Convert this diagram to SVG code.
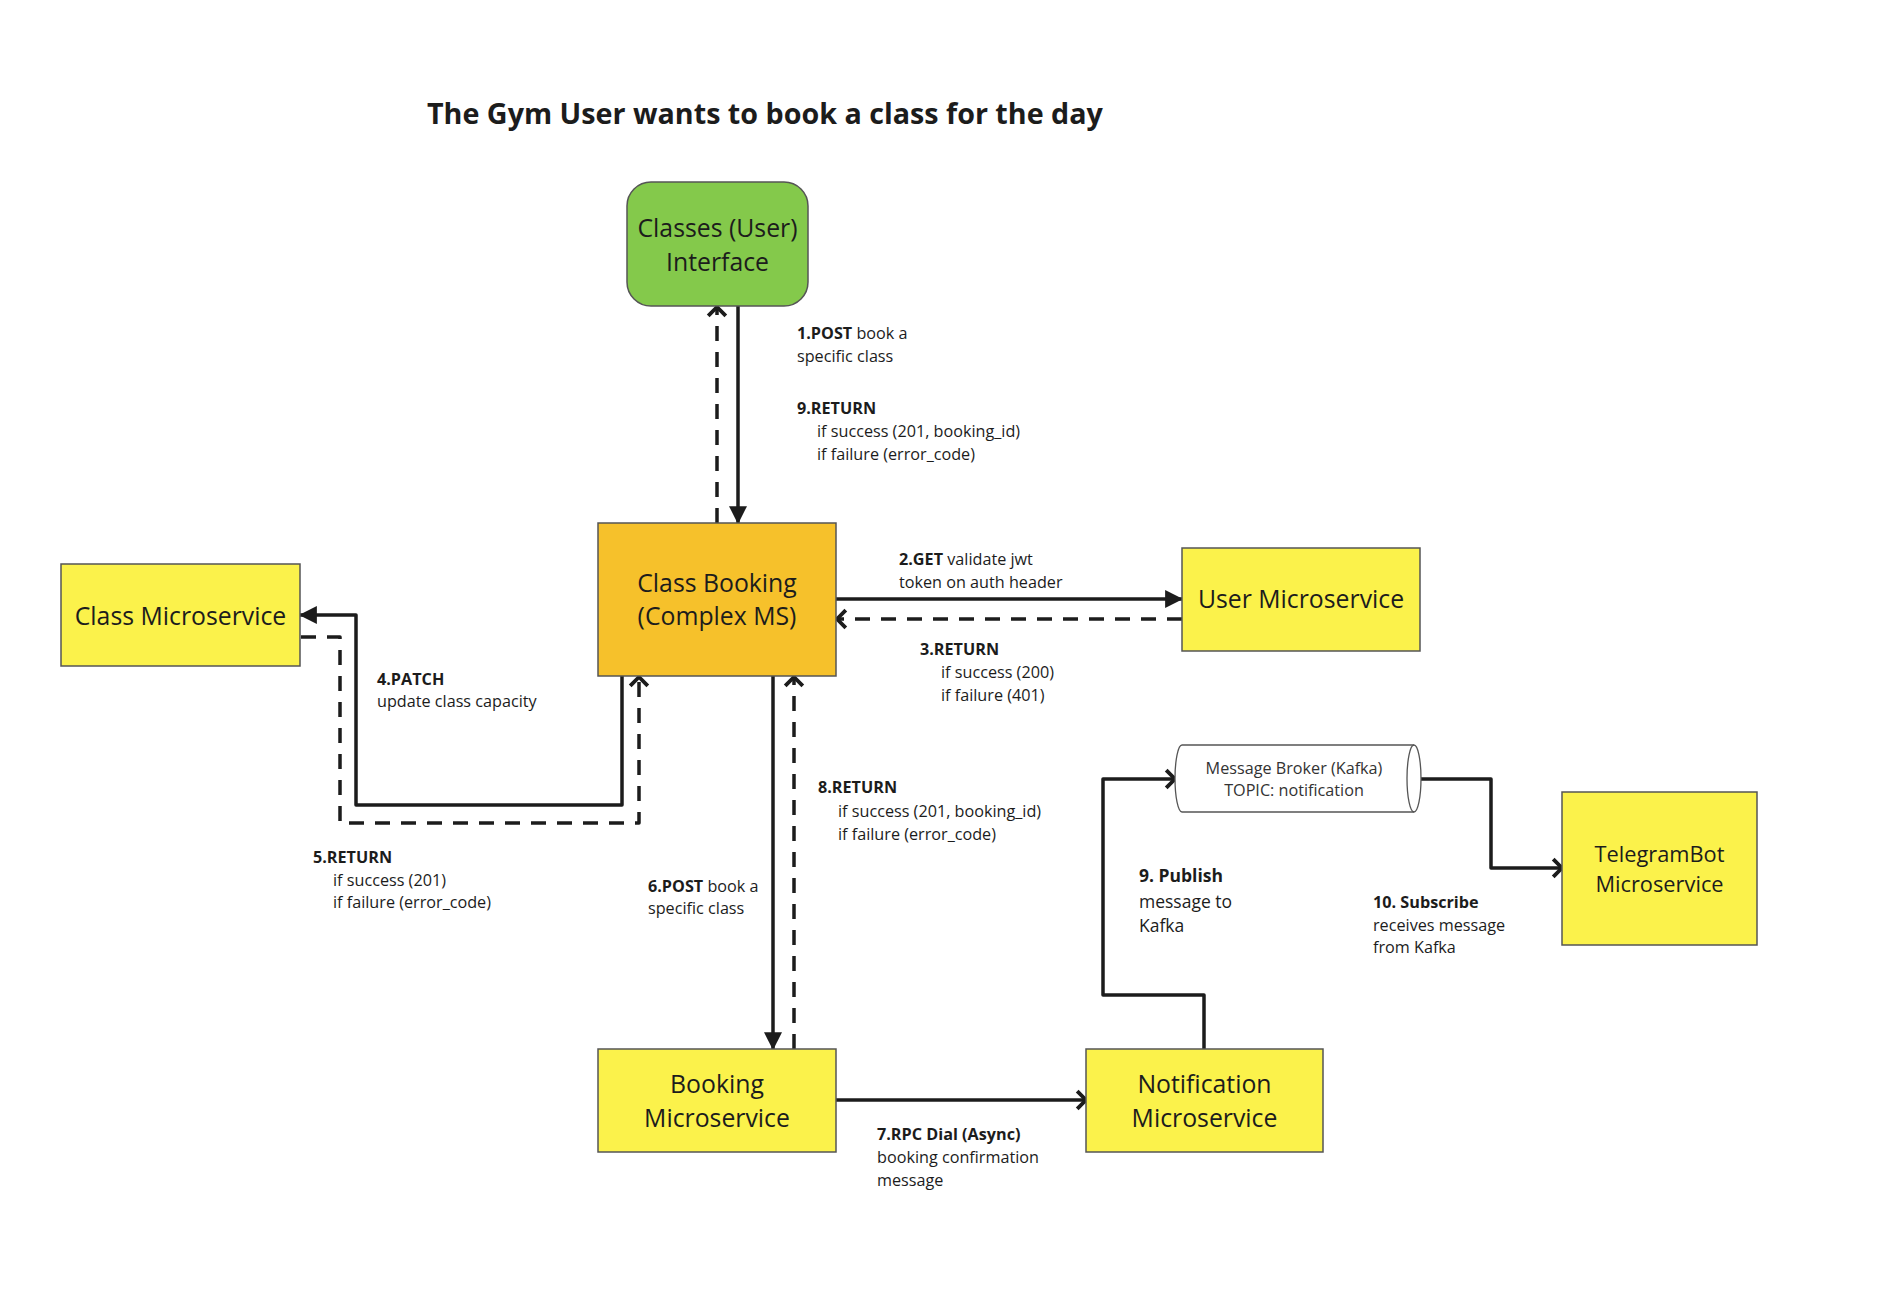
<svg xmlns="http://www.w3.org/2000/svg" width="1902" height="1294" viewBox="0 0 1902 1294">
<defs>
<style>
text{font-family:"Open Sans","Noto Sans","Liberation Sans",sans-serif;fill:#1c1c1c}
.node{stroke:#555;stroke-width:1.5}
.nt{font-size:24.8px;text-anchor:middle}
.lb{font-size:16.2px}
.b{font-weight:700}
.c{fill:none;stroke:#1c1c1c;stroke-width:3.5;stroke-linejoin:round}
.d{stroke-dasharray:15 11}
</style>
<marker id="tri" markerUnits="userSpaceOnUse" markerWidth="18" markerHeight="18" viewBox="0 0 16 16" refX="15" refY="8" orient="auto">
<path d="M0,0 L16,8 L0,16 Z" fill="#1c1c1c"/>
</marker>
<marker id="chev" markerUnits="userSpaceOnUse" markerWidth="14" markerHeight="22" viewBox="0 0 12 20" refX="10" refY="10" orient="auto">
<path d="M2,2 L10,10 L2,18" fill="none" stroke="#1c1c1c" stroke-width="3.5" stroke-linejoin="round"/>
</marker>
</defs>
<rect width="1902" height="1294" fill="#ffffff"/>
<text x="427" y="124" class="b" style="font-size:28.7px">The Gym User wants to book a class for the day</text>

<g id="connectors">
<path class="c" d="M738,306 L738,523" marker-end="url(#tri)"/>
<path class="c d" d="M717,523 L717,307" marker-end="url(#chev)"/>
<path class="c" d="M836,599 L1182,599" marker-end="url(#tri)"/>
<path class="c d" d="M1182,619 L837,619" marker-end="url(#chev)"/>
<path class="c" d="M622,676 L622,805 L356,805 L356,615 L300,615" marker-end="url(#tri)"/>
<path class="c d" d="M301,637 L340,637 L340,823 L639,823 L639,677" marker-end="url(#chev)"/>
<path class="c" d="M773,676 L773,1049" marker-end="url(#tri)"/>
<path class="c d" d="M794,1049 L794,677" marker-end="url(#chev)"/>
<path class="c" d="M836,1100 L1086,1100" marker-end="url(#chev)"/>
<path class="c" d="M1204,1049 L1204,995 L1103,995 L1103,779 L1175,779" marker-end="url(#chev)"/>
<path class="c" d="M1421,779 L1491,779 L1491,868 L1562,868" marker-end="url(#chev)"/>
</g>

<g id="classes-ui">
<rect class="node" x="627" y="182" width="181" height="124" rx="24" fill="#84C94B"/>
<text class="nt" x="717.5" y="237">Classes (User)</text>
<text class="nt" x="717.5" y="271">Interface</text>
</g>
<g id="class-booking">
<rect class="node" x="598" y="523" width="238" height="153" fill="#F6C12B"/>
<text class="nt" x="717" y="592">Class Booking</text>
<text class="nt" x="717" y="625">(Complex MS)</text>
</g>
<g id="class-ms">
<rect class="node" x="61" y="564" width="239" height="102" fill="#FBF24B"/>
<text class="nt" x="180.5" y="625">Class Microservice</text>
</g>
<g id="user-ms">
<rect class="node" x="1182" y="548" width="238" height="103" fill="#FBF24B"/>
<text class="nt" x="1301" y="608">User Microservice</text>
</g>
<g id="booking-ms">
<rect class="node" x="598" y="1049" width="238" height="103" fill="#FBF24B"/>
<text class="nt" x="717" y="1093">Booking</text>
<text class="nt" x="717" y="1127">Microservice</text>
</g>
<g id="notification-ms">
<rect class="node" x="1086" y="1049" width="237" height="103" fill="#FBF24B"/>
<text class="nt" x="1204.5" y="1093">Notification</text>
<text class="nt" x="1204.5" y="1127">Microservice</text>
</g>
<g id="telegram-ms">
<rect class="node" x="1562" y="792" width="195" height="153" fill="#FBF24B"/>
<text class="nt" x="1659.5" y="862" style="font-size:21.8px">TelegramBot</text>
<text class="nt" x="1659.5" y="892" style="font-size:21.8px">Microservice</text>
</g>
<g id="kafka">
<path d="M1182,745 L1414,745 A7,33.5 0 0 1 1414,812 L1182,812 A7,33.5 0 0 1 1182,745 Z" fill="#ffffff" stroke="#555" stroke-width="1.3"/>
<path d="M1414,745 A7,33.5 0 0 0 1414,812" fill="none" stroke="#555" stroke-width="1.3"/>
<text x="1294" y="774" text-anchor="middle" style="font-size:16.2px;fill:#333">Message Broker (Kafka)</text>
<text x="1294" y="796" text-anchor="middle" style="font-size:16.2px;fill:#333">TOPIC: notification</text>
</g>

<g id="labels" class="lb">
<text x="797" y="339"><tspan class="b">1.POST</tspan> book a</text>
<text x="797" y="362">specific class</text>
<text x="797" y="414" class="b">9.RETURN</text>
<text x="817" y="437">if success (201, booking_id)</text>
<text x="817" y="460">if failure (error_code)</text>

<text x="899" y="565"><tspan class="b">2.GET</tspan> validate jwt</text>
<text x="899" y="588">token on auth header</text>

<text x="920" y="655" class="b">3.RETURN</text>
<text x="941" y="678">if success (200)</text>
<text x="941" y="701">if failure (401)</text>

<text x="377" y="685" class="b">4.PATCH</text>
<text x="377" y="707">update class capacity</text>

<text x="313" y="863" class="b">5.RETURN</text>
<text x="333" y="886">if success (201)</text>
<text x="333" y="908">if failure (error_code)</text>

<text x="818" y="793" class="b">8.RETURN</text>
<text x="838" y="817">if success (201, booking_id)</text>
<text x="838" y="840">if failure (error_code)</text>

<text x="648" y="892"><tspan class="b">6.POST</tspan> book a</text>
<text x="648" y="914">specific class</text>

<text x="1139" y="882" class="b" style="font-size:17.5px">9. Publish</text>
<text x="1139" y="908" style="font-size:17.5px">message to</text>
<text x="1139" y="932" style="font-size:17.5px">Kafka</text>

<text x="1373" y="908" class="b">10. Subscribe</text>
<text x="1373" y="931">receives message</text>
<text x="1373" y="953">from Kafka</text>

<text x="877" y="1140" class="b">7.RPC Dial (Async)</text>
<text x="877" y="1163">booking confirmation</text>
<text x="877" y="1186">message</text>
</g>
</svg>
